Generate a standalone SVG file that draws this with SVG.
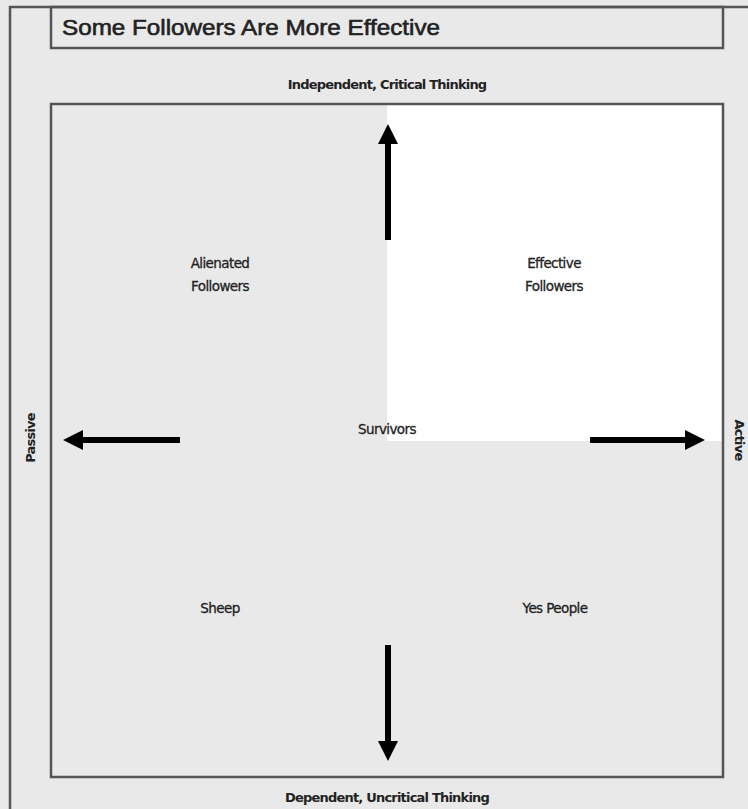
<svg xmlns="http://www.w3.org/2000/svg" width="748" height="809" viewBox="0 0 748 809">
  <defs>
    <style>
      .frame { fill: none; stroke: #555; stroke-width: 2.5; }
      .lbl { font-family: "DejaVu Sans", "Liberation Sans", sans-serif; font-size: 13.5px; fill: #222; stroke: #222; stroke-width: 0.3; text-anchor: middle; letter-spacing: -0.6px; }
      .axis { font-family: "DejaVu Sans", "Liberation Sans", sans-serif; font-size: 13px; font-weight: bold; fill: #222; text-anchor: middle; letter-spacing: -0.8px; }
      .arrow { stroke: #000; stroke-width: 6; fill: none; marker-end: url(#head); }
    </style>
    <marker id="head" viewBox="0 0 20 20" markerWidth="20" markerHeight="20" markerUnits="userSpaceOnUse" refX="1" refY="10" orient="auto">
      <path d="M0,0 L20,10 L0,20 z" fill="#000"/>
    </marker>
  </defs>

  <rect x="0" y="0" width="748" height="809" fill="#e9e9e9"/>
  <path class="frame" d="M10,809 L10,7 L748,7"/>

  <g id="title">
    <rect class="frame" x="51" y="7" width="672" height="41"/>
    <text x="62" y="35" font-family="'Liberation Sans', Arial, sans-serif" font-size="22" fill="#222" stroke="#222" stroke-width="0.6" textLength="378" lengthAdjust="spacingAndGlyphs">Some Followers Are More Effective</text>
  </g>

  <g id="matrix">
    <rect x="51" y="104" width="672" height="673" fill="#e9e9e9"/>
    <rect x="387" y="104" width="336" height="337" fill="#ffffff"/>
    <rect class="frame" x="51" y="104" width="672" height="673"/>
  </g>

  <g id="axis-top"><text class="axis" x="387" y="89">Independent, Critical Thinking</text></g>
  <g id="axis-bottom"><text class="axis" x="387" y="802">Dependent, Uncritical Thinking</text></g>
  <g id="axis-left"><text class="axis" transform="translate(35,438) rotate(-90)">Passive</text></g>
  <g id="axis-right"><text class="axis" transform="translate(735,440) rotate(90)">Active</text></g>

  <g id="alienated"><text class="lbl" x="220" y="268">Alienated</text><text class="lbl" x="220" y="291">Followers</text></g>
  <g id="effective"><text class="lbl" x="554" y="268">Effective</text><text class="lbl" x="554" y="291">Followers</text></g>
  <g id="survivors"><text class="lbl" x="387" y="434">Survivors</text></g>
  <g id="sheep"><text class="lbl" x="220" y="613">Sheep</text></g>
  <g id="yes-people"><text class="lbl" x="555" y="613">Yes People</text></g>

  <g id="connectors">
    <line class="arrow" x1="388" y1="240" x2="388" y2="143"/>
    <line class="arrow" x1="180" y1="440" x2="82" y2="440"/>
    <line class="arrow" x1="590" y1="440" x2="686" y2="440"/>
    <line class="arrow" x1="388" y1="645" x2="388" y2="742"/>
  </g>
</svg>
